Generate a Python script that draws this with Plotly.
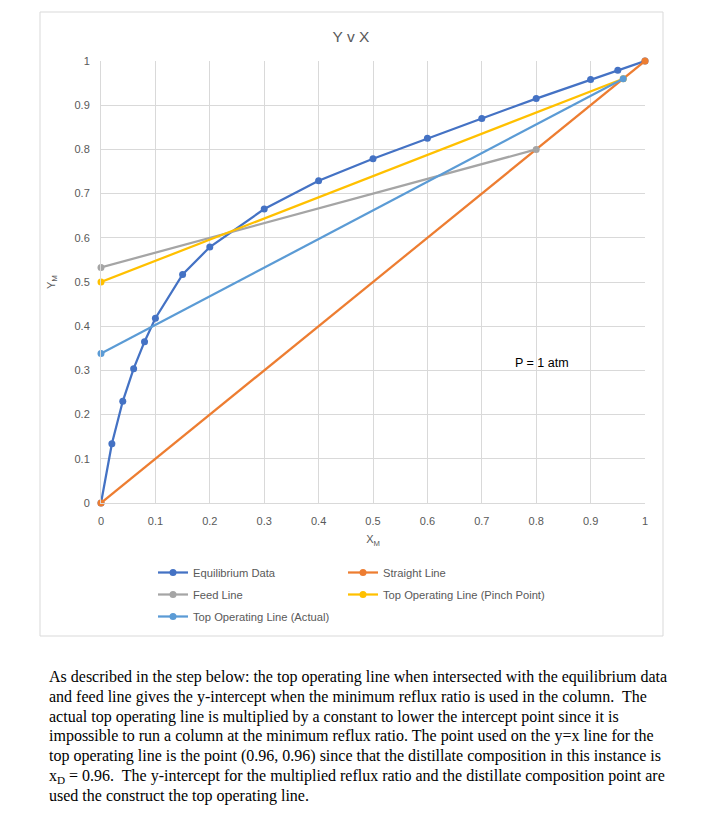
import plotly.graph_objects as go

# Data
eq_x = [0, 0.02, 0.04, 0.06, 0.08, 0.1, 0.15, 0.2, 0.3, 0.4, 0.5, 0.6, 0.7, 0.8, 0.9, 0.95, 1.0]
eq_y = [0, 0.134, 0.230, 0.304, 0.365, 0.418, 0.517, 0.579, 0.665, 0.729, 0.779, 0.825, 0.870, 0.915, 0.958, 0.979, 1.0]
straight_x = [0, 1]
straight_y = [0, 1]
feed_x = [0, 0.8]
feed_y = [0.533, 0.8]
pinch_x = [0, 0.96]
pinch_y = [0.5, 0.96]
actual_x = [0, 0.96]
actual_y = [0.338, 0.96]
ticks = [0, 0.1, 0.2, 0.3, 0.4, 0.5, 0.6, 0.7, 0.8, 0.9, 1]
tick_text = ["0", "0.1", "0.2", "0.3", "0.4", "0.5", "0.6", "0.7", "0.8", "0.9", "1"]

paragraph_lines = [
    "As described in the step below: the top operating line when intersected with the equilibrium data",
    "and feed line gives the y-intercept when the minimum reflux ratio is used in the column.  The",
    "actual top operating line is multiplied by a constant to lower the intercept point since it is",
    "impossible to run a column at the minimum reflux ratio. The point used on the y=x line for the",
    "top operating line is the point (0.96, 0.96) since that the distillate composition in this instance is",
    "x<sub>D</sub> = 0.96.  The y-intercept for the multiplied reflux ratio and the distillate composition point are",
    "used the construct the top operating line.",
]

OFF = 8  # browser body margin
W, H = 701 - OFF, 820 - OFF
L, R, T, B = 101 - OFF, 645 - OFF, 61 - OFF, 503 - OFF
pw, ph = R - L, B - T


def px(x):
    return (x - OFF - L) / pw


def py(y):
    return (B - (y - OFF)) / ph


fig = go.Figure()

series = [
    ("Equilibrium Data", eq_x, eq_y, "#4472C4", "legend"),
    ("Straight Line", straight_x, straight_y, "#ED7D31", "legend2"),
    ("Feed Line", feed_x, feed_y, "#A5A5A5", "legend"),
    ("Top Operating Line (Pinch Point)", pinch_x, pinch_y, "#FFC000", "legend2"),
    ("Top Operating Line (Actual)", actual_x, actual_y, "#5B9BD5", "legend"),
]
for i, (name, xs, ys, col, lg) in enumerate(series):
    fig.add_trace(go.Scatter(
        x=xs, y=ys, name=name, mode="lines+markers",
        line=dict(color=col, width=2.25),
        marker=dict(color=col, size=7),
        cliponaxis=False, legend=lg, legendgroup="g%d" % i,
    ))

axis_common = dict(
    range=[0, 1], tickvals=ticks, ticktext=tick_text,
    showgrid=True, gridcolor="#D9D9D9", gridwidth=1,
    zeroline=False, showline=True, linecolor="#D9D9D9", linewidth=1,
    ticks="", tickfont=dict(family="Liberation Sans", size=11, color="#595959"),
    fixedrange=True,
)

fig.update_layout(
    width=W, height=H,
    margin=dict(l=L, r=W - R, t=T, b=H - B),
    paper_bgcolor="white", plot_bgcolor="white",
    title=dict(text="Y v X", xref="paper", x=px(351), xanchor="center",
               yref="container", y=1 - (37 - OFF) / H, yanchor="middle",
               font=dict(family="Liberation Sans", size=15.5, color="#595959")),
    xaxis=dict(**axis_common, ticklabelstandoff=8,
               title=dict(text="X<sub>M</sub>", standoff=9,
                          font=dict(family="Liberation Sans", size=11, color="#595959"))),
    yaxis=dict(**axis_common, ticklabelstandoff=8,
               title=dict(text="Y<sub>M</sub>", standoff=16,
                          font=dict(family="Liberation Sans", size=11, color="#595959"))),
    legend=dict(x=px(153), y=py(558), xanchor="left", yanchor="top",
                orientation="v", tracegroupgap=3, bgcolor="rgba(0,0,0,0)",
                font=dict(family="Liberation Sans", size=11.2, color="#595959")),
    legend2=dict(x=px(343), y=py(558), xanchor="left", yanchor="top",
                 orientation="v", tracegroupgap=3, bgcolor="rgba(0,0,0,0)",
                 font=dict(family="Liberation Sans", size=11.2, color="#595959")),
    showlegend=True,
)

# chart border
fig.add_shape(type="rect", xref="paper", yref="paper",
              x0=px(40), x1=px(663), y0=py(636), y1=py(12),
              line=dict(color="#D9D9D9", width=1), fillcolor="rgba(0,0,0,0)", layer="below")

fig.add_annotation(x=0.81, y=0.317, xref="x", yref="y", text="P = 1 atm", showarrow=False,
                   font=dict(family="Liberation Sans", size=12.5, color="#000000"))

for i, line in enumerate(paragraph_lines):
    fig.add_annotation(x=px(47), y=py(677 + i * 19.8), xref="paper", yref="paper",
                       xanchor="left", yanchor="middle", align="left", text=line,
                       showarrow=False,
                       font=dict(family="Liberation Serif", size=16, color="#000000"))

fig.write_html("out.html")
